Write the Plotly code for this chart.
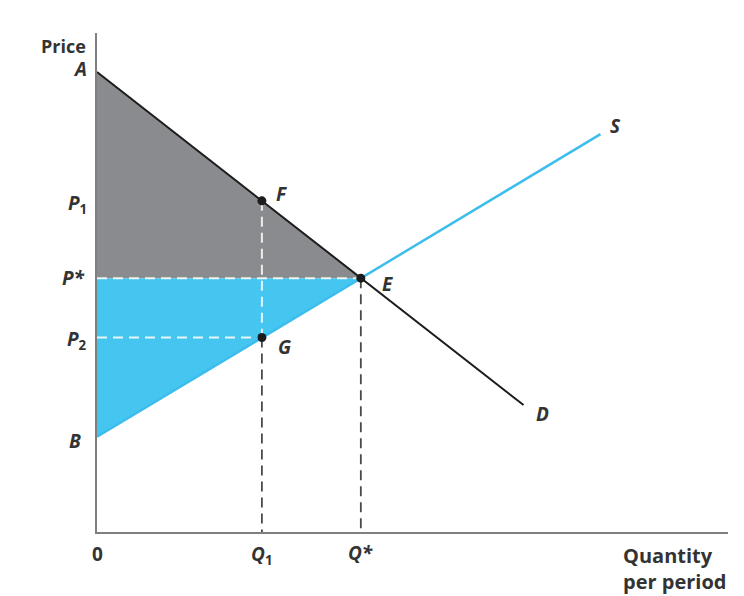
import plotly.graph_objects as go

# ---- data (abstract units) ----
demand_q = [0, 9.7]
demand_p = [10, 2.76]
supply_q = [0, 11.45]
supply_p = [2.07, 8.65]

price_names = ["A", "P1", "P*", "P2", "B"]
price_vals = [10, 7.2, 5.52, 4.23, 2.07]

q1 = 3.75
q_star = 6.0
p1 = 7.2
p_star = 5.52
p2 = 4.23
a_val = 10
b_val = 2.07

x_max = 14.35
y_max = 10.85

GREY_FILL = "#8a8b8e"
BLUE_FILL = "#45c6f0"
BLUE_LINE = "#3dbdee"
DARK = "#1c1c1c"
AXIS = "#7f7f7f"
TXT = "#333333"
FONT = "Open Sans"

fig = go.Figure()

# consumer surplus (grey) triangle A-E-P*
fig.add_trace(go.Scatter(x=[0, q_star, 0, 0], y=[a_val, p_star, p_star, a_val],
                         fill="toself", fillcolor=GREY_FILL, mode="none",
                         hoverinfo="skip", showlegend=False))
# producer surplus (blue) triangle P*-E-B
fig.add_trace(go.Scatter(x=[0, q_star, 0, 0], y=[p_star, p_star, b_val, p_star],
                         fill="toself", fillcolor=BLUE_FILL, mode="none",
                         hoverinfo="skip", showlegend=False))

# dashed guide lines
white_dash = dict(color="rgba(255,255,255,0.85)", width=2, dash="10px,6px")
grey_dash = dict(color="#4a4a4a", width=1.8, dash="10px,6px")
fig.add_trace(go.Scatter(x=[0, q_star], y=[p_star, p_star], mode="lines", line=white_dash,
                         hoverinfo="skip", showlegend=False))
fig.add_trace(go.Scatter(x=[0, q1], y=[p2, p2], mode="lines", line=white_dash,
                         hoverinfo="skip", showlegend=False))
fig.add_trace(go.Scatter(x=[q1, q1], y=[p1, p2], mode="lines", line=white_dash,
                         hoverinfo="skip", showlegend=False))
fig.add_trace(go.Scatter(x=[q1, q1], y=[p2, 0], mode="lines", line=grey_dash,
                         hoverinfo="skip", showlegend=False))
fig.add_trace(go.Scatter(x=[q_star, q_star], y=[p_star, 0], mode="lines", line=grey_dash,
                         hoverinfo="skip", showlegend=False))

# supply and demand
fig.add_trace(go.Scatter(x=supply_q, y=supply_p, mode="lines",
                         line=dict(color=BLUE_LINE, width=2.5),
                         hoverinfo="skip", showlegend=False))
fig.add_trace(go.Scatter(x=demand_q, y=demand_p, mode="lines",
                         line=dict(color=DARK, width=2),
                         hoverinfo="skip", showlegend=False))

# points F, G, E
fig.add_trace(go.Scatter(x=[q1, q1, q_star], y=[p1, p2, p_star], mode="markers",
                         marker=dict(color=DARK, size=9),
                         hoverinfo="skip", showlegend=False))

annotations = []
def lab(text, x, y, xanchor="center", xshift=0, yshift=0, xref="x", yref="y", size=19, align="center"):
    annotations.append(dict(text=text, x=x, y=y, xref=xref, yref=yref, showarrow=False,
                            xanchor=xanchor, yanchor="middle", xshift=xshift, yshift=yshift,
                            align=align, font=dict(family=FONT, size=size, color=TXT)))

# price axis labels
lab("<b><i>A</i></b>", 0, a_val, xanchor="right", xshift=-8, yshift=3)
lab("<b><i>P</i><sub>1</sub></b>", 0, p1, xanchor="right", xshift=-8, yshift=-3)
lab("<b><i>P*</i></b>", 0, p_star, xanchor="right", xshift=-10, yshift=0)
lab("<b><i>P</i><sub>2</sub></b>", 0, p2, xanchor="right", xshift=-8, yshift=-3)
lab("<b><i>B</i></b>", 0, b_val, xanchor="right", xshift=-14, yshift=-4)
lab("<b>Price</b>", 0, 1.0, xref="x", yref="paper", xanchor="right", xshift=-9, yshift=-13, size=18)

# quantity axis labels
lab("<b>0</b>", 0, 0, yshift=-22)
lab("<b><i>Q</i><sub>1</sub></b>", q1, 0, yshift=-23)
lab("<b><i>Q*</i></b>", q_star, 0, yshift=-21)
lab("<b>Quantity<br>per period</b>", x_max, 0, xanchor="right", yshift=-36, align="left", size=20)

# point / curve labels
lab("<b><i>F</i></b>", q1, p1, xanchor="left", xshift=12, yshift=7)
lab("<b><i>G</i></b>", q1, p2, xanchor="left", xshift=14, yshift=-10)
lab("<b><i>E</i></b>", q_star, p_star, xanchor="left", xshift=19, yshift=-6)
lab("<b><i>D</i></b>", demand_q[1], demand_p[1], xanchor="left", xshift=10, yshift=-9)
lab("<b><i>S</i></b>", supply_q[1], supply_p[1], xanchor="left", xshift=8, yshift=8)

# page body has an 8px default margin: shrink the figure so the plot area lands on the reference pixels
fig.update_layout(
    width=736, height=588,
    margin=dict(l=89, r=16, t=25, b=64),
    paper_bgcolor="white", plot_bgcolor="white",
    xaxis=dict(range=[0, x_max], showgrid=False, zeroline=False, showticklabels=False,
               ticks="", showline=True, linecolor=AXIS, linewidth=2, fixedrange=True),
    yaxis=dict(range=[0, y_max], showgrid=False, zeroline=False, showticklabels=False,
               ticks="", showline=True, linecolor=AXIS, linewidth=2, fixedrange=True),
    annotations=annotations,
    showlegend=False,
)

fig.write_html("out.html")
